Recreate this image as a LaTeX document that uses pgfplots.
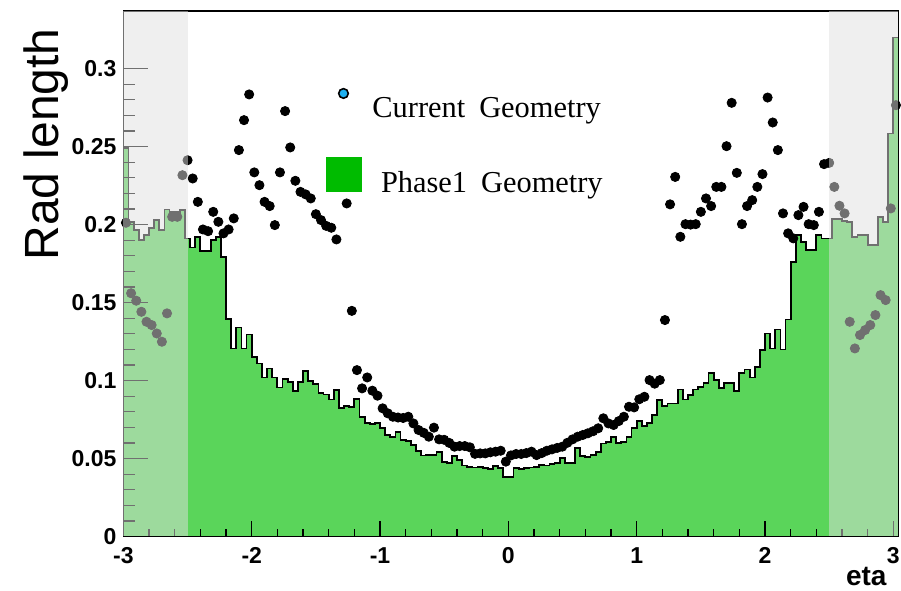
\documentclass[border=0pt]{standalone}
\usepackage{fontspec}
\setmainfont{Liberation Sans}
\newfontfamily\legfont{Liberation Serif}
\usepackage{pgfplots}
\usepackage{pgfplotstable}
\pgfplotsset{compat=1.18}

\definecolor{histgreen}{RGB}{90,213,90}
\definecolor{keygreen}{RGB}{0,187,0}
\definecolor{keycyan}{RGB}{30,176,240}

% Phase1 geometry: radiation length per eta bin (left bin edge, value)
\pgfplotstableread{
edge rad
-3.00 0.2490
-2.96 0.2018
-2.92 0.1965
-2.88 0.1901
-2.84 0.1932
-2.80 0.1976
-2.76 0.2029
-2.72 0.1965
-2.68 0.2097
-2.64 0.2082
-2.60 0.2082
-2.56 0.2093
-2.52 0.1911
-2.48 0.1853
-2.44 0.1921
-2.40 0.1831
-2.36 0.1831
-2.32 0.1899
-2.28 0.1921
-2.24 0.1793
-2.20 0.1394
-2.16 0.1206
-2.12 0.1340
-2.08 0.1206
-2.04 0.1296
-2.00 0.1153
-1.96 0.1110
-1.92 0.1020
-1.88 0.1078
-1.84 0.1020
-1.80 0.0956
-1.76 0.1008
-1.72 0.0992
-1.68 0.0933
-1.64 0.0992
-1.60 0.1061
-1.56 0.0997
-1.52 0.0976
-1.48 0.0922
-1.44 0.0911
-1.40 0.0879
-1.36 0.0939
-1.32 0.0826
-1.28 0.0838
-1.24 0.0832
-1.20 0.0881
-1.16 0.0768
-1.12 0.0726
-1.08 0.0722
-1.04 0.0730
-1.00 0.0695
-0.96 0.0653
-0.92 0.0640
-0.88 0.0670
-0.84 0.0620
-0.80 0.0614
-0.76 0.0585
-0.72 0.0549
-0.68 0.0519
-0.64 0.0521
-0.60 0.0521
-0.56 0.0544
-0.52 0.0480
-0.48 0.0470
-0.44 0.0517
-0.40 0.0491
-0.36 0.0455
-0.32 0.0448
-0.28 0.0442
-0.24 0.0448
-0.20 0.0437
-0.16 0.0431
-0.12 0.0452
-0.08 0.0437
-0.04 0.0383
0.00 0.0383
0.04 0.0437
0.08 0.0431
0.12 0.0437
0.16 0.0442
0.20 0.0448
0.24 0.0459
0.28 0.0455
0.32 0.0463
0.36 0.0470
0.40 0.0502
0.44 0.0470
0.48 0.0470
0.52 0.0565
0.56 0.0516
0.60 0.0512
0.64 0.0522
0.68 0.0544
0.72 0.0597
0.76 0.0608
0.80 0.0640
0.84 0.0602
0.88 0.0608
0.92 0.0640
0.96 0.0694
1.00 0.0743
1.04 0.0709
1.08 0.0726
1.12 0.0779
1.16 0.0875
1.20 0.0836
1.24 0.0853
1.28 0.0853
1.32 0.0943
1.36 0.0879
1.40 0.0907
1.44 0.0943
1.48 0.0960
1.52 0.0982
1.56 0.1046
1.60 0.1003
1.64 0.0950
1.68 0.0986
1.72 0.0986
1.76 0.0933
1.80 0.1046
1.84 0.1071
1.88 0.1020
1.92 0.1089
1.96 0.1195
2.00 0.1302
2.04 0.1206
2.08 0.1328
2.12 0.1199
2.16 0.1392
2.20 0.1762
2.24 0.1933
2.28 0.1890
2.32 0.1837
2.36 0.1837
2.40 0.1933
2.44 0.1911
2.48 0.1911
2.52 0.2036
2.56 0.2036
2.60 0.2025
2.64 0.2015
2.68 0.1921
2.72 0.1932
2.76 0.1932
2.80 0.1868
2.84 0.1868
2.88 0.2047
2.92 0.2015
2.96 0.2585
3.00 0.3200
3.04 0.3200
}\phaseone

% Current geometry: radiation length at bin centres
\pgfplotstableread{
eta rad
-2.98 0.2012
-2.94 0.1560
-2.90 0.1512
-2.86 0.1441
-2.82 0.1377
-2.78 0.1356
-2.74 0.1302
-2.70 0.1249
-2.66 0.1431
-2.62 0.2050
-2.58 0.2050
-2.54 0.2317
-2.50 0.2413
-2.46 0.2296
-2.42 0.2146
-2.38 0.1969
-2.34 0.1958
-2.30 0.2082
-2.26 0.2018
-2.22 0.1944
-2.18 0.1969
-2.14 0.2040
-2.10 0.2478
-2.06 0.2670
-2.02 0.2835
-1.98 0.2335
-1.94 0.2253
-1.90 0.2146
-1.86 0.2119
-1.82 0.1997
-1.78 0.2335
-1.74 0.2728
-1.70 0.2495
-1.66 0.2281
-1.62 0.2210
-1.58 0.2194
-1.54 0.2168
-1.50 0.2067
-1.46 0.2029
-1.42 0.1992
-1.38 0.1980
-1.34 0.1905
-1.26 0.2136
-1.22 0.1447
-1.18 0.1067
-1.14 0.0950
-1.10 0.1020
-1.06 0.0935
-1.02 0.0903
-0.98 0.0822
-0.94 0.0790
-0.90 0.0768
-0.86 0.0763
-0.82 0.0760
-0.78 0.0768
-0.74 0.0725
-0.70 0.0683
-0.66 0.0665
-0.62 0.0640
-0.58 0.0698
-0.54 0.0623
-0.50 0.0620
-0.46 0.0600
-0.42 0.0576
-0.38 0.0580
-0.34 0.0580
-0.30 0.0572
-0.26 0.0530
-0.22 0.0533
-0.18 0.0533
-0.14 0.0540
-0.10 0.0544
-0.06 0.0550
-0.02 0.0480
0.02 0.0520
0.06 0.0529
0.10 0.0529
0.14 0.0535
0.18 0.0544
0.22 0.0522
0.26 0.0535
0.30 0.0550
0.34 0.0559
0.38 0.0568
0.42 0.0576
0.46 0.0601
0.50 0.0623
0.54 0.0640
0.58 0.0651
0.62 0.0662
0.66 0.0675
0.70 0.0694
0.74 0.0758
0.78 0.0725
0.82 0.0715
0.86 0.0740
0.90 0.0768
0.94 0.0832
0.98 0.0828
1.02 0.0880
1.06 0.0896
1.10 0.1003
1.14 0.0980
1.18 0.1003
1.22 0.1388
1.26 0.2130
1.30 0.2306
1.34 0.1922
1.38 0.2003
1.42 0.2000
1.46 0.2003
1.50 0.2082
1.54 0.2168
1.58 0.2119
1.62 0.2242
1.66 0.2242
1.70 0.2503
1.74 0.2781
1.78 0.2332
1.82 0.2003
1.86 0.2119
1.90 0.2157
1.94 0.2242
1.98 0.2324
2.02 0.2815
2.06 0.2655
2.10 0.2478
2.14 0.2072
2.18 0.1944
2.22 0.1912
2.26 0.2061
2.30 0.2114
2.34 0.2003
2.38 0.1997
2.42 0.2082
2.46 0.2388
2.50 0.2396
2.54 0.2242
2.58 0.2121
2.62 0.2072
2.66 0.1377
2.70 0.1206
2.74 0.1292
2.78 0.1324
2.82 0.1356
2.86 0.1420
2.90 0.1548
2.94 0.1516
2.98 0.2104
3.02 0.2766
}\current

\begin{document}
\begin{tikzpicture}
\begin{axis}[
  at={(61.7pt,26.75pt)}, anchor=south west,
  scale only axis, width=387.55pt, height=262.75pt,
  xmin=-3, xmax=3.04, ymin=0, ymax=0.337,
  set layers=axis on top, axis on top,
  axis line style={line width=0.6pt},
  tick pos=left, tick align=inside,
  scaled ticks=false,
  xtick={-3,-2,-1,0,1,2,3}, xticklabels={-3,-2,-1,0,1,2,3},
  ytick={0,0.05,0.1,0.15,0.2,0.25,0.3},
  yticklabels={0,0.05,0.1,0.15,0.2,0.25,0.3},
  minor x tick num=4, minor y tick num=4,
  xtick style={line width=0.6pt, black, /pgfplots/major tick length=7.8pt, /pgfplots/minor tick length=3.8pt},
  ytick style={line width=0.6pt, black, /pgfplots/major tick length=12.5pt, /pgfplots/minor tick length=6pt},
  ticklabel style={font=\bfseries\fontsize{11.5}{13}\selectfont},
  xticklabel style={inner sep=0pt, yshift=-5.4pt},
  xlabel={eta},
  xlabel style={at={(axis description cs:0.985,-0.058)}, anchor=north east, inner sep=0pt,
    font=\bfseries\fontsize{14}{16}\selectfont},
  ylabel={Rad length},
  ylabel style={at={(axis description cs:-0.0996,0.9676)}, anchor=east, inner sep=0pt,
    font=\fontsize{24}{27}\selectfont},
  legend style={at={(axis description cs:0.2614,0.853)}, anchor=north west,
    draw=none, fill=none, inner sep=0pt, row sep=16.5pt, column sep=3pt,
    font=\legfont\fontsize{15.2}{18}\selectfont},
  legend cell align=left,
]
\addlegendimage{only marks, mark=*, mark size=2.4pt,
  mark options={fill=keycyan, draw=black, line width=0.8pt}, yshift=7.5pt}
\addlegendentry{Current\hspace{7pt}Geometry}
\addlegendimage{legend image code/.code={%
  \path[draw=none, fill=none] (0pt,-13.25pt) rectangle (18pt,13.25pt);
  \fill[keygreen, draw=none] (0pt,-4.25pt) rectangle (18pt,13.25pt);}}
\addlegendentry{\hspace{4.3pt}Phase1\hspace{7pt}Geometry}

% Phase1 material as a filled histogram
\addplot[forget plot, const plot mark left, fill=histgreen, draw=black, line width=0.9pt]
  table[x=edge, y=rad]{\phaseone} \closedcycle;

% current material as filled dots
\addplot[forget plot, only marks, mark=*, mark size=2.3pt, mark options={fill=black, draw=black}]
  table[x=eta, y=rad]{\current};

% forward regions beyond |eta| = 2.5, shaded over everything
\addplot[forget plot, on layer=axis foreground, draw=none, fill=black!12, fill opacity=0.5]
  coordinates {(-3,0.337) (-2.5,0.337)} \closedcycle;
\addplot[forget plot, on layer=axis foreground, draw=none, fill=black!12, fill opacity=0.5]
  coordinates {(2.5,0.337) (3.04,0.337)} \closedcycle;
\end{axis}
% page frame of the figure
\pgfresetboundingbox
\path[use as bounding box] (0,0) rectangle (450.5pt,295pt);
\end{tikzpicture}
\end{document}
